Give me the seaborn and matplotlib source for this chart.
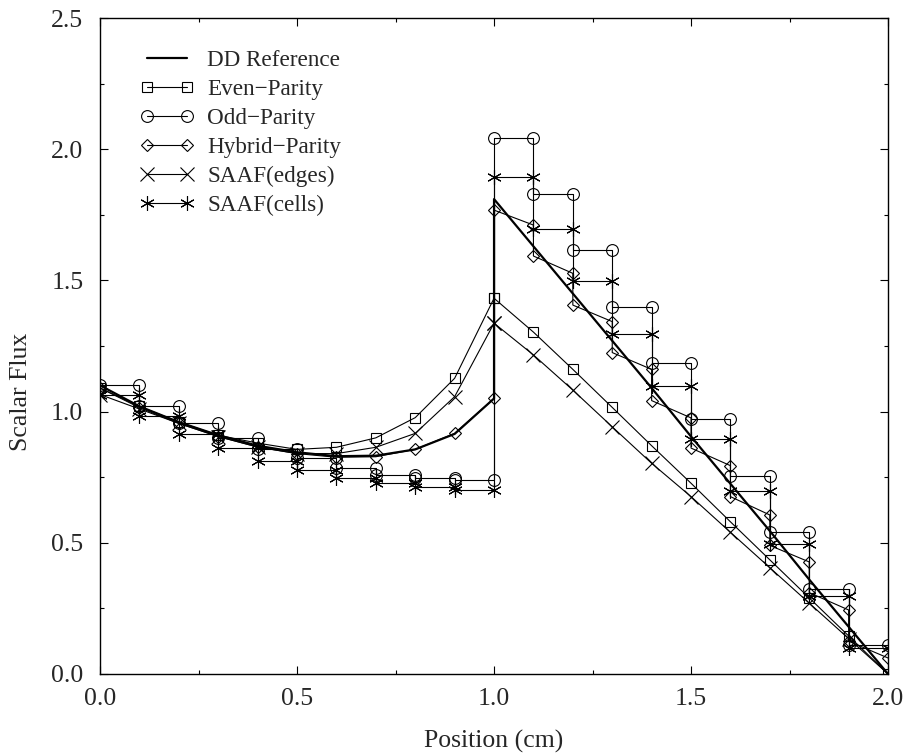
import numpy as np
import pandas as pd
import matplotlib
matplotlib.use("Agg")
import matplotlib.pyplot as plt
import seaborn as sns

# ---------------- data ----------------
edges = [0.0, 0.1, 0.2, 0.3, 0.4, 0.5, 0.6, 0.7, 0.8, 0.9, 1.0,
         1.1, 1.2, 1.3, 1.4, 1.5, 1.6, 1.7, 1.8, 1.9, 2.0]

# DD reference (left region edge values, right region edge values)
dd_left = [1.10, 1.02, 0.96, 0.91, 0.87, 0.845, 0.83, 0.832, 0.856, 0.915, 1.05]
dd_right = [1.81, 1.63, 1.45, 1.27, 1.09, 0.905, 0.725, 0.545, 0.36, 0.18, 0.0]

# Even-parity (edge values)
even_left = [1.09, 1.02, 0.96, 0.91, 0.88, 0.856, 0.864, 0.90, 0.977, 1.127, 1.432]
even_right = [1.432, 1.303, 1.161, 1.016, 0.870, 0.727, 0.58, 0.435, 0.29, 0.145, 0.0]

# Odd-parity (cell values)
odd_cells = [1.10, 1.02, 0.955, 0.90, 0.857, 0.822, 0.786, 0.76, 0.748, 0.74,
             2.044, 1.829, 1.616, 1.40, 1.185, 0.97, 0.755, 0.54, 0.325, 0.11]

# Hybrid-parity (left edge values, right per-cell start/end values)
hyb_left = [1.09, 1.015, 0.955, 0.905, 0.865, 0.84, 0.826, 0.828, 0.856, 0.917, 1.05]
hyb_start = [1.768, 1.593, 1.406, 1.225, 1.042, 0.861, 0.676, 0.49, 0.31, 0.125]
hyb_end = [1.711, 1.527, 1.343, 1.161, 0.976, 0.794, 0.606, 0.427, 0.244, 0.061]

# SAAF(edges) (edge values)
saafe_left = [1.065, 1.01, 0.955, 0.905, 0.865, 0.84, 0.84, 0.864, 0.917, 1.057, 1.337]
saafe_right = [1.337, 1.216, 1.082, 0.942, 0.803, 0.676, 0.54, 0.405, 0.27, 0.135, 0.0]

# SAAF(cells) (cell values)
saafc_cells = [1.065, 0.985, 0.915, 0.862, 0.812, 0.776, 0.748, 0.728, 0.712, 0.70,
               1.895, 1.697, 1.497, 1.297, 1.097, 0.897, 0.697, 0.497, 0.297, 0.10]

x_ticks = [0.0, 0.5, 1.0, 1.5, 2.0]
y_ticks = [0.0, 0.5, 1.0, 1.5, 2.0, 2.5]

# ---------------- build plotting tables ----------------
def steps(cells):
    xs, ys = [], []
    for i, v in enumerate(cells):
        xs += [edges[i], edges[i + 1]]
        ys += [v, v]
    return xs, ys

dd_x = edges[:11] + edges[10:]
dd_y = dd_left + dd_right
ev_x = edges[:11] + edges[10:]
ev_y = even_left + even_right
odd_x, odd_y = steps(odd_cells)
hyb_x = list(edges[:11])
hyb_y = list(hyb_left)
for i in range(10):
    hyb_x += [edges[10 + i], edges[11 + i]]
    hyb_y += [hyb_start[i], hyb_end[i]]
se_x = edges[:11] + edges[10:]
se_y = saafe_left + saafe_right
sc_x, sc_y = steps(saafc_cells)

series = [
    ("DD Reference", dd_x, dd_y, None, 1.6),
    ("Even\u2212Parity", ev_x, ev_y, "s", 0.8),
    ("Odd\u2212Parity", odd_x, odd_y, "o", 0.8),
    ("Hybrid\u2212Parity", hyb_x, hyb_y, "D", 0.8),
    ("SAAF(edges)", se_x, se_y, "x", 0.8),
    ("SAAF(cells)", sc_x, sc_y, (6, 2, 0), 0.8),
]

# ---------------- plot ----------------
sns.set_theme(style="ticks")
plt.rcParams["font.family"] = ["Liberation Serif", "DejaVu Serif"]

fig = plt.figure(figsize=(9.11, 7.55), dpi=100)
ax = fig.add_axes([0.1098, 0.1073, 0.8650, 0.8688])

msizes = {"s": 7.5, "o": 8.5, "D": 6.5, "x": 9.5, (6, 2, 0): 10.5}
handles = []
for name, xs, ys, mk, lw in series:
    df = pd.DataFrame({"x": xs, "y": ys})
    n_before = len(ax.lines)
    sns.lineplot(data=df, x="x", y="y", sort=False, estimator=None,
                 color="black", linewidth=lw, ax=ax, legend=False)
    line = ax.lines[n_before]
    line.set_color("black")
    line.set_linewidth(lw)
    if mk is not None:
        line.set_marker(mk)
        line.set_markersize(msizes[mk])
        line.set_markerfacecolor("none")
        line.set_markeredgecolor("black")
        line.set_markeredgewidth(0.8)
    line.set_label(name)
    handles.append(line)

ax.set_xlim(0, 2.0)
ax.set_ylim(0, 2.5)
ax.set_xticks(x_ticks)
ax.set_xticklabels([f"{v:.1f}" for v in x_ticks])
ax.set_yticks(y_ticks)
ax.set_yticklabels([f"{v:.1f}" for v in y_ticks])
ax.set_xticks(np.arange(0, 2.01, 0.25), minor=True)
ax.set_yticks(np.arange(0, 2.51, 0.25), minor=True)
ax.tick_params(which="both", direction="in", top=True, right=True,
               labelsize=18.5, color="black", width=0.8)
ax.tick_params(which="major", length=6)
ax.tick_params(which="minor", length=3)
ax.tick_params(axis="y", which="both", pad=12)
ax.tick_params(axis="x", which="both", pad=10)
for sp in ax.spines.values():
    sp.set_visible(True)
    sp.set_color("black")
    sp.set_linewidth(1.0)

ax.set_xlabel("Position (cm)", fontsize=18.5)
ax.set_ylabel("Scalar Flux", fontsize=18.5)
ax.xaxis.set_label_coords(0.5, -0.085)
ax.yaxis.set_label_coords(-0.086, 0.43)

leg = ax.legend(handles=handles, loc="upper left", frameon=False,
                fontsize=16.7, numpoints=2, handlelength=2.3, handletextpad=0.6,
                labelspacing=0.34, borderpad=0.0, borderaxespad=0.0,
                bbox_to_anchor=(0.051, 0.952))

fig.savefig("out.png", dpi=100, facecolor="white")
